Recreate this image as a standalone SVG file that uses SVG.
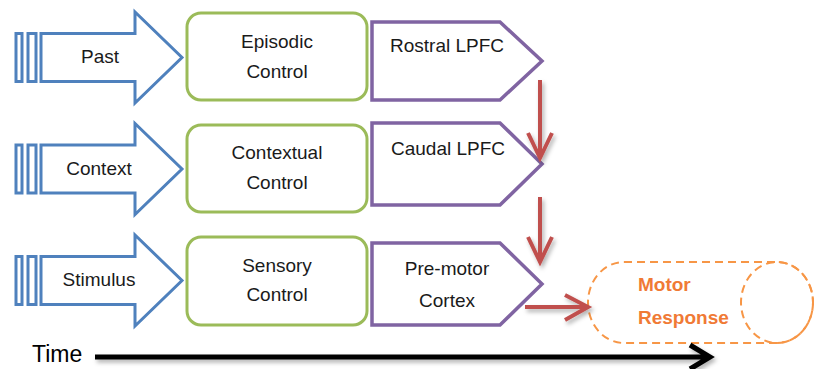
<svg xmlns="http://www.w3.org/2000/svg" width="819" height="369" viewBox="0 0 819 369">
<style>
.blue{fill:#fff;stroke:#4F81BD;stroke-width:3;stroke-linejoin:miter}
.green{fill:#fff;stroke:#9BBB59;stroke-width:3}
.purple{fill:#fff;stroke:#8064A2;stroke-width:3.5;stroke-linejoin:miter}
.t{font-family:"Liberation Sans",Arial,sans-serif;font-size:19px;fill:#1a1a1a;text-anchor:middle}
.mt{font-family:"Liberation Sans",Arial,sans-serif;font-size:19px;font-weight:bold;fill:#F07A35}
.red{fill:none;stroke:#C0504D;stroke-width:4;stroke-linecap:butt;stroke-linejoin:miter}
.dash{fill:none;stroke:#F79646;stroke-width:2;stroke-dasharray:8 5}
</style>
<defs>
<filter id="sh" x="-20%" y="-20%" width="140%" height="140%">
<feDropShadow dx="2" dy="3" stdDeviation="2" flood-color="#000" flood-opacity="0.3"/>
</filter>
<g id="barrow">
<path d="M41,-24 H135 V-45.5 L182,0 L135,45.5 V24 H41 Z"/>
<rect x="16" y="-24" width="6" height="48"/>
<rect x="28" y="-24" width="8" height="48"/>
</g>
</defs>

<g id="past">
<use href="#barrow" class="blue" transform="translate(0,57.5)"/>
<text class="t" x="100" y="63">Past</text>
</g>
<g id="context">
<use href="#barrow" class="blue" transform="translate(0,169)"/>
<text class="t" x="99" y="175">Context</text>
</g>
<g id="stimulus">
<use href="#barrow" class="blue" transform="translate(0,280.5)"/>
<text class="t" x="99" y="286">Stimulus</text>
</g>

<g id="episodic">
<rect class="green" x="187" y="13" width="180" height="87" rx="14"/>
<text class="t" x="277" y="48">Episodic</text>
<text class="t" x="277" y="78">Control</text>
</g>
<g id="contextual">
<rect class="green" x="187" y="125" width="180" height="87" rx="14"/>
<text class="t" x="277" y="159">Contextual</text>
<text class="t" x="277" y="189">Control</text>
</g>
<g id="sensory">
<rect class="green" x="187" y="237" width="180" height="88" rx="14"/>
<text class="t" x="277" y="272">Sensory</text>
<text class="t" x="277" y="301">Control</text>
</g>

<g id="rostral">
<path class="purple" d="M372,22 H500 L542,61 L500,100 H372 Z"/>
<text class="t" x="447" y="52">Rostral LPFC</text>
</g>
<g id="caudal">
<path class="purple" d="M372,123 H500 L542,164 L500,205 H372 Z"/>
<text class="t" x="448" y="155">Caudal LPFC</text>
</g>
<g id="premotor">
<path class="purple" d="M372,243 H500 L542,284 L500,325 H372 Z"/>
<text class="t" x="447" y="275">Pre-motor</text>
<text class="t" x="447" y="307">Cortex</text>
</g>

<g id="motor-response">
<path class="dash" d="M624,262 H777 A36,40.5 0 0 1 777,343 H624 A36,40.5 0 0 1 624,262 Z"/>
<ellipse class="dash" cx="777" cy="302.5" rx="36" ry="40.5"/>
<text class="mt" x="638" y="291">Motor</text>
<text class="mt" x="638" y="324">Response</text>
</g>

<g id="connectors">
<g class="red" filter="url(#sh)">
<path d="M540,80 V156 M528,133 L540,158 L552,133"/>
<path d="M540,197 V260 M528,237 L540,262 L552,237"/>
<path d="M525,307 H585 M565,295 L588,307 L565,320"/>
</g>
<g filter="url(#sh)">
<path d="M95,357 H707 M690,345 L710,357 L690,369" fill="none" stroke="#000" stroke-width="5"/>
</g>
</g>
<text id="time" x="32" y="362" font-family="'Liberation Sans',Arial,sans-serif" font-size="23" fill="#000">Time</text>
</svg>
